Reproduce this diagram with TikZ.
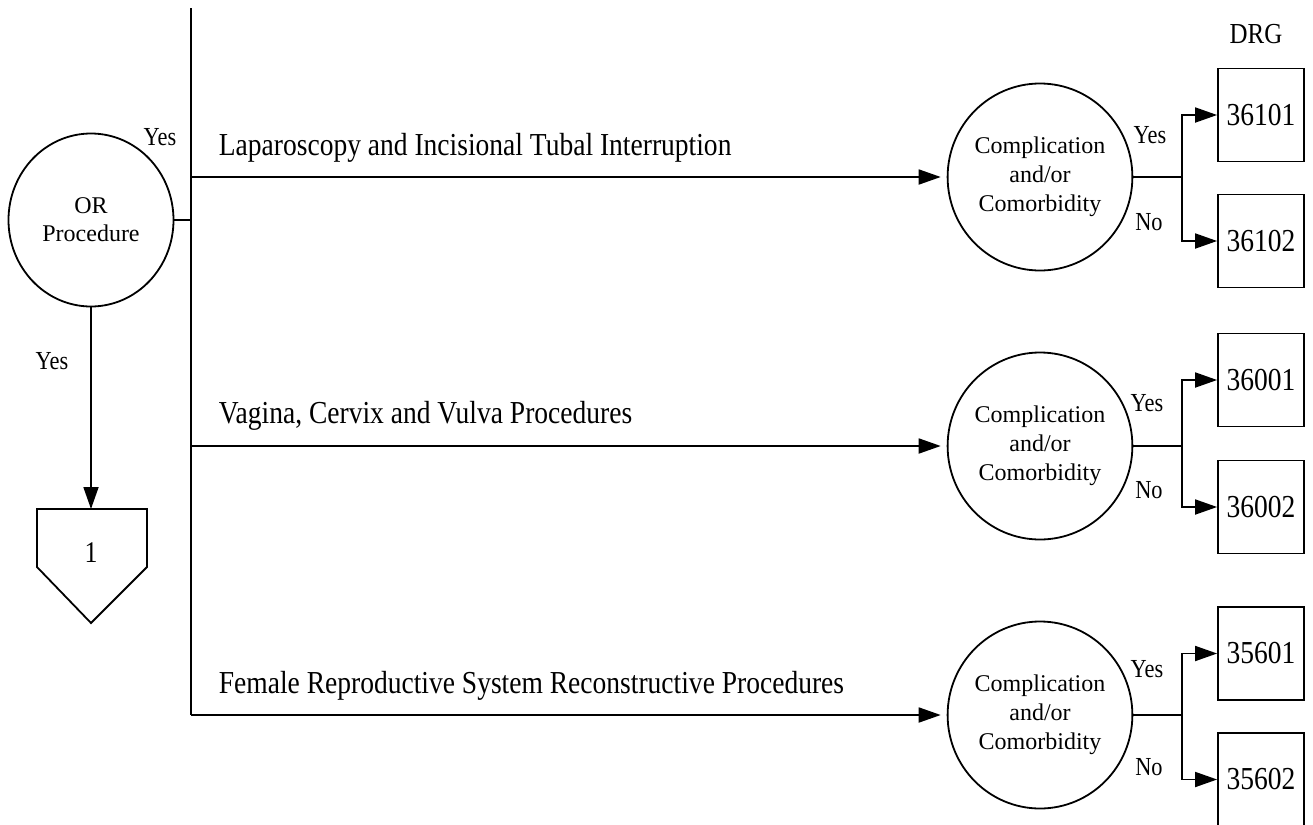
\documentclass[tikz,border=0pt]{standalone}
\usepackage{fontspec}
\setmainfont{Liberation Serif}[FakeStretch=0.86]
\newfontfamily\circfont{Liberation Serif}
\usetikzlibrary{shapes.geometric,arrows.meta}
\begin{document}
\begin{tikzpicture}[x=0.5pt,y=-0.5pt,
  line width=0.9pt,
  arr/.style={-{Triangle[length=11pt,width=7.5pt]}},
  orcirc/.style={draw,ellipse,minimum width=82.5pt,minimum height=86.5pt,inner sep=0pt,align=center,font=\circfont\fontsize{12}{14}\selectfont},
  cccirc/.style={draw,ellipse,minimum width=89.5pt,minimum height=93.5pt,inner sep=0pt,align=center,font=\circfont\fontsize{12}{14.5}\selectfont},
  drgbox/.style={draw,rectangle,minimum width=43pt,minimum height=46.5pt,inner sep=0pt,font=\fontsize{16}{18}\selectfont},
  branchlbl/.style={anchor=base west,inner sep=0pt,font=\fontsize{16}{18}\selectfont},
  yn/.style={inner sep=0pt,font=\fontsize{13}{15}\selectfont}]
\useasboundingbox (0,0) rectangle (1313,825);

% OR procedure
\node[orcirc] (or) at (91,220) {OR\\Procedure};
\node[yn] (yes0) at (160,137) {Yes};
\coordinate (vtop) at (191,8);
\coordinate (orj) at (191,220);
\coordinate (br1) at (191,177);
\coordinate (br2) at (191,446);
\coordinate (br3) at (191,715);
\draw (or.east) -- (orj);
\draw (vtop) -- (br3);

% down to connector 1
\coordinate (penttop) at (91,509);
\draw[arr] (or.south) -- (penttop);
\node[yn] (yesd) at (52,361) {Yes};
\draw (37,509) -- (147,509) -- (147,567) -- (91,623) -- (37,567) -- cycle;
\node[inner sep=0pt,font=\fontsize{15}{17}\selectfont] (one) at (91,553) {1};

% branch labels
\node[branchlbl] (l1) at (218,155) {Laparoscopy and Incisional Tubal Interruption};
\node[branchlbl] (l2) at (218,423) {Vagina, Cervix and Vulva Procedures};
\node[branchlbl] (l3) at (218,693) {Female Reproductive System Reconstructive Procedures};

% CC circles
\node[cccirc] (c1) at (1040,177) {Complication\\and/or\\Comorbidity};
\node[cccirc] (c2) at (1040,446) {Complication\\and/or\\Comorbidity};
\node[cccirc] (c3) at (1040,715) {Complication\\and/or\\Comorbidity};
\draw[arr,shorten >=3pt] (br1) -- (c1.west);
\draw[arr,shorten >=3pt] (br2) -- (c2.west);
\draw[arr,shorten >=3pt] (br3) -- (c3.west);

% DRG boxes
\node[font=\fontsize{14.5}{16}\selectfont,inner sep=0pt] (drg) at (1256,34) {DRG};
\node[drgbox] (b11) at (1261,115) {36101};
\node[drgbox] (b12) at (1261,241) {36102};
\node[drgbox] (b21) at (1261,380) {36001};
\node[drgbox] (b22) at (1261,507) {36002};
\node[drgbox] (b31) at (1261,653.5) {35601};
\node[drgbox] (b32) at (1261,779.5) {35602};

\coordinate (j1) at (1182,177);
\coordinate (j2) at (1182,446);
\coordinate (j3) at (1182,715);
\draw (c1.east) -- (j1);
\draw (c2.east) -- (j2);
\draw (c3.east) -- (j3);
\draw[arr] (j1) |- (b11);
\draw[arr] (j1) |- (b12);
\draw[arr] (j2) |- (b21);
\draw[arr] (j2) |- (b22);
\draw[arr] (j3) |- (b31);
\draw[arr] (j3) |- (b32);

\node[yn] (y1) at (1150,135) {Yes};
\node[yn] (n1) at (1149,222) {No};
\node[yn] (y2) at (1147,403) {Yes};
\node[yn] (n2) at (1149,490) {No};
\node[yn] (y3) at (1147,669) {Yes};
\node[yn] (n3) at (1149,767) {No};
\end{tikzpicture}
\end{document}
